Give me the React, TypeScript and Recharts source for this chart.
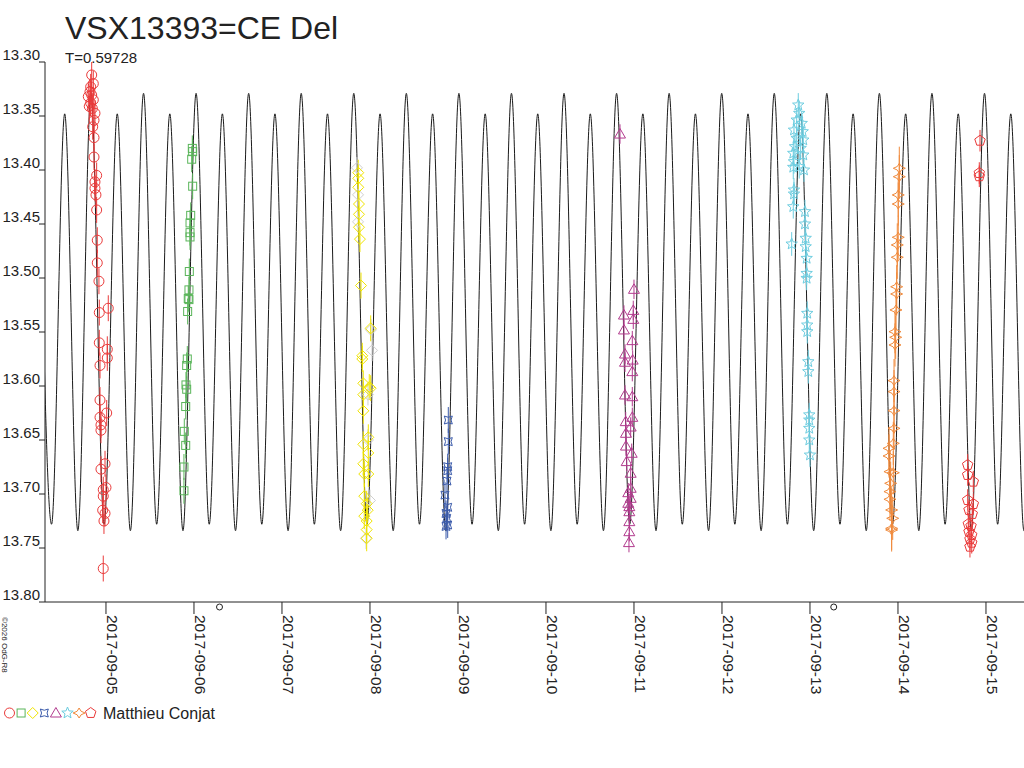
import React from 'react'
import {
    ComposedChart,
    Line,
    Scatter,
    XAxis,
    YAxis,
    ErrorBar,
    ReferenceDot,
} from 'recharts'

// time is in days after 2017-09-05 00:00 UT
const period = 0.59728
const firstMax = -0.1705
// one cycle of the model curve (primary max, secondary min, secondary max, primary min)
const cyclePhases = [0, 0.25, 0.5, 0.75]
const cycleMags = [13.329, 13.728, 13.348, 13.734]

const xMin = -0.693
const xMax = 10.432
const dayTicks = [0, 1, 2, 3, 4, 5, 6, 7, 8, 9, 10]
const dayLabels = [
    '2017-09-05', '2017-09-06', '2017-09-07', '2017-09-08', '2017-09-09', '2017-09-10',
    '2017-09-11', '2017-09-12', '2017-09-13', '2017-09-14', '2017-09-15',
]
const magTicks = [13.3, 13.35, 13.4, 13.45, 13.5, 13.55, 13.6, 13.65, 13.7, 13.75, 13.8]

// moon phases marked under the axis: full moon, last quarter
const moonTimes = [1.29, 8.27]

const sep05 = [
    [-0.1625, 13.312], [-0.144, 13.32], [-0.174, 13.323], [-0.182, 13.3275], [-0.1625, 13.3306],
    [-0.201, 13.332], [-0.144, 13.335], [-0.174, 13.338], [-0.19, 13.341], [-0.155, 13.343],
    [-0.125, 13.3475], [-0.136, 13.354], [-0.151, 13.36], [-0.136, 13.37], [-0.136, 13.388],
    [-0.106, 13.405], [-0.125, 13.411], [-0.125, 13.417], [-0.114, 13.423], [-0.106, 13.437],
    [-0.099, 13.465], [-0.099, 13.486], [-0.08, 13.503], [-0.076, 13.532], [0.026, 13.528],
    [-0.076, 13.56], [0.015, 13.566], [0.015, 13.574], [-0.068, 13.581], [-0.068, 13.613],
    [0.008, 13.625], [-0.068, 13.629], [-0.057, 13.636], [-0.057, 13.641], [-0.011, 13.672],
    [-0.057, 13.677], [-0.031, 13.696], [0, 13.694], [-0.031, 13.702], [-0.0375, 13.715],
    [-0.011, 13.718], [-0.023, 13.725], [-0.031, 13.769],
]
const sep06 = [
    [0.981, 13.38], [0.985, 13.383], [0.974, 13.39], [0.985, 13.415], [0.9625, 13.442],
    [0.955, 13.449], [0.955, 13.458], [0.955, 13.462], [0.947, 13.494], [0.943, 13.511],
    [0.935, 13.519], [0.943, 13.52], [0.928, 13.531], [0.924, 13.575], [0.917, 13.581],
    [0.909, 13.599], [0.917, 13.603], [0.906, 13.619], [0.89, 13.642], [0.906, 13.655],
    [0.886, 13.675], [0.886, 13.697],
]
const sep08 = [
    [2.867, 13.4025], [2.867, 13.4077], [2.867, 13.416], [2.875, 13.4315], [2.875, 13.441],
    [2.875, 13.453], [2.886, 13.464], [2.898, 13.507], [3.008, 13.5466], [2.9125, 13.572],
    [2.9125, 13.575], [2.924, 13.5975], [2.992, 13.601], [3.008, 13.602], [2.924, 13.608],
    [2.924, 13.623], [2.981, 13.6475], [2.924, 13.654], [2.981, 13.662], [2.924, 13.672],
    [2.935, 13.6815], [2.981, 13.6815], [2.935, 13.702], [2.9625, 13.709], [2.974, 13.715],
    [2.935, 13.7205], [2.9625, 13.725], [2.9625, 13.733], [2.9625, 13.741],
]
const sep08b = [
    [2.852, 13.398], [2.864, 13.423], [2.864, 13.448], [3.011, 13.548], [3.023, 13.567],
    [2.977, 13.608], [2.977, 13.65], [3.0, 13.706], [2.955, 13.741],
]
const sep09 = [
    [3.89, 13.6315], [3.89, 13.6515], [3.883, 13.6747], [3.883, 13.6784], [3.875, 13.688],
    [3.852, 13.701], [3.883, 13.7123], [3.864, 13.718], [3.872, 13.7225], [3.864, 13.73],
    [3.883, 13.7287],
]
const sep11 = [
    [5.841, 13.3667], [6.0, 13.5105], [5.992, 13.53], [5.886, 13.5343], [5.992, 13.5383],
    [5.886, 13.5481], [5.981, 13.558], [5.898, 13.5704], [5.985, 13.576], [5.898, 13.578],
    [5.981, 13.5867], [5.898, 13.6083], [5.981, 13.6099], [5.981, 13.629], [5.906, 13.633],
    [5.9625, 13.638], [5.909, 13.6438], [5.909, 13.6556], [5.974, 13.6623], [5.917, 13.67],
    [5.9625, 13.6808], [5.9625, 13.6947], [5.935, 13.6988], [5.9625, 13.704], [5.935, 13.7086],
    [5.947, 13.7117], [5.947, 13.7164], [5.947, 13.7256], [5.947, 13.7349], [5.943, 13.745],
]
const sep13 = [
    [7.867, 13.3398], [7.878, 13.3475], [7.849, 13.3537], [7.906, 13.3568], [7.818, 13.363],
    [7.917, 13.3645], [7.849, 13.3706], [7.924, 13.3722], [7.83, 13.3784], [7.894, 13.3799],
    [7.81, 13.3845], [7.924, 13.3861], [7.818, 13.3923], [7.878, 13.3969], [7.932, 13.4],
    [7.81, 13.3975], [7.818, 13.4185], [7.818, 13.4222], [7.81, 13.434], [7.943, 13.4386],
    [7.943, 13.45], [7.792, 13.4685], [7.951, 13.4632], [7.951, 13.471], [7.962, 13.4818],
    [7.962, 13.4957], [7.962, 13.5003], [7.969, 13.5327], [7.969, 13.5435], [7.969, 13.5497],
    [7.981, 13.5775], [7.981, 13.5867], [7.992, 13.6267], [7.992, 13.6315], [7.992, 13.6392],
    [7.992, 13.65], [8.0, 13.6639],
]
const sep14 = [
    [9.015, 13.3984], [9.015, 13.4062], [9.003, 13.4231], [9.003, 13.4315], [9.003, 13.4623],
    [8.992, 13.4694], [8.992, 13.4808], [8.985, 13.5081], [8.985, 13.5148], [8.977, 13.5296],
    [8.966, 13.5497], [8.974, 13.5549], [8.966, 13.562], [8.955, 13.595], [8.955, 13.6052],
    [8.955, 13.6228], [8.955, 13.6392], [8.947, 13.6531], [8.898, 13.6577], [8.898, 13.6648],
    [8.909, 13.6793], [8.947, 13.6803], [8.917, 13.6901], [8.909, 13.6978], [8.909, 13.7049],
    [8.928, 13.7148], [8.94, 13.7225], [8.928, 13.7318], [8.928, 13.7333],
]
const sep15 = [
    [9.932, 13.3729], [9.924, 13.4028], [9.924, 13.4058], [9.792, 13.6731], [9.792, 13.6824],
    [9.856, 13.6886], [9.792, 13.7056], [9.856, 13.7093], [9.807, 13.7148], [9.844, 13.7185],
    [9.799, 13.7278], [9.83, 13.7296], [9.807, 13.7349], [9.838, 13.738], [9.818, 13.7419],
    [9.838, 13.7451], [9.818, 13.7488],
]

const textColor = '#222'
const font = '"Liberation Sans", Arial, sans-serif'

const toPoints = (rows: number[][], err: number) =>
    rows.map(([t, mag]) => ({ t, mag, e: err }))

const curveData: { t: number, mag: number }[] = []
for (let n = -3; n < 25; n++) {
    cyclePhases.forEach((ph, i) => {
        const t = firstMax + (n + ph) * period
        if (t > xMin - period / 4 && t < xMax + period / 4) {
            curveData.push({ t, mag: cycleMags[i] })
        }
    })
}

type Sym = (cx: number, cy: number, color: string) => React.ReactElement

const polyPath = (cx: number, cy: number, pts: number[][]) =>
    'M' + pts.map(([x, y]) => `${(cx + x).toFixed(2)},${(cy + y).toFixed(2)}`).join('L') + 'Z'

const circleSym: Sym = (cx, cy, c) => <circle cx={cx} cy={cy} r={5} fill="none" stroke={c} />
const squareSym: Sym = (cx, cy, c) => <rect x={cx - 4} y={cy - 4} width={8} height={8} fill="none" stroke={c} />
const diamondSym: Sym = (cx, cy, c) =>
    <path d={polyPath(cx, cy, [[0, -5.5], [5.5, 0], [0, 5.5], [-5.5, 0]])} fill="none" stroke={c} />
const crossSym: Sym = (cx, cy, c) =>
    <path
        d={`M${cx - 4},${cy - 4} Q${cx},${cy - 1.5} ${cx + 4},${cy - 4} Q${cx + 1.5},${cy} ${cx + 4},${cy + 4} Q${cx},${cy + 1.5} ${cx - 4},${cy + 4} Q${cx - 1.5},${cy} ${cx - 4},${cy - 4} Z`}
        fill="none" stroke={c} />
const triangleSym: Sym = (cx, cy, c) =>
    <path d={polyPath(cx, cy, [[0, -5.5], [5.5, 4], [-5.5, 4]])} fill="none" stroke={c} />
const starSym: Sym = (cx, cy, c) => {
    const pts: number[][] = []
    for (let i = 0; i < 10; i++) {
        const a = (-90 + i * 36) * Math.PI / 180
        const r = i % 2 === 0 ? 6 : 2.6
        pts.push([r * Math.cos(a), r * Math.sin(a)])
    }
    return <path d={polyPath(cx, cy, pts)} fill="none" stroke={c} />
}
const sparkSym: Sym = (cx, cy, c) =>
    <path
        d={`M${cx},${cy - 5} Q${cx + 1},${cy - 1} ${cx + 6},${cy} Q${cx + 1},${cy + 1} ${cx},${cy + 5} Q${cx - 1},${cy + 1} ${cx - 6},${cy} Q${cx - 1},${cy - 1} ${cx},${cy - 5} Z`}
        fill="none" stroke={c} />
const pentagonSym: Sym = (cx, cy, c) => {
    const pts: number[][] = []
    for (let i = 0; i < 5; i++) {
        const a = (-90 + i * 72) * Math.PI / 180
        pts.push([5.5 * Math.cos(a), 5.5 * Math.sin(a)])
    }
    return <path d={polyPath(cx, cy, pts)} fill="none" stroke={c} />
}

const nights = [
    { key: 'sep05', rows: sep05, err: 0.012, color: '#ea3a3a', sym: circleSym },
    { key: 'sep06', rows: sep06, err: 0.012, color: '#5ab55a', sym: squareSym },
    { key: 'sep08b', rows: sep08b, err: 0.01, color: '#cfcfcf', sym: diamondSym },
    { key: 'sep08', rows: sep08, err: 0.012, color: '#f0e400', sym: diamondSym },
    { key: 'sep09', rows: sep09, err: 0.012, color: '#3b5bab', sym: crossSym },
    { key: 'sep11', rows: sep11, err: 0.009, color: '#b23b8e', sym: triangleSym },
    { key: 'sep13', rows: sep13, err: 0.011, color: '#6dcde0', sym: starSym },
    { key: 'sep14', rows: sep14, err: 0.02, color: '#f08a3c', sym: sparkSym },
    { key: 'sep15', rows: sep15, err: 0.01, color: '#ea3a3a', sym: pentagonSym },
]
const legendNights = nights.filter((n) => n.key !== 'sep08b')

const MagTick = (props: any) => {
    const { x, y, payload } = props
    return (
        <text x={x + 1} y={y - 2.5} textAnchor="end" fontSize={15} fill={textColor} fontFamily={font}>
            {payload.value.toFixed(2)}
        </text>
    )
}

const DayTick = (props: any) => {
    const { x, y, payload } = props
    const label = dayLabels[dayTicks.indexOf(payload.value)]
    return (
        <text x={x + 1.5} y={y + 1} transform={`rotate(90, ${x + 1.5}, ${y + 1})`}
            textAnchor="start" fontSize={15.5} fill={textColor} fontFamily={font}>
            {label}
        </text>
    )
}

const MoonMark = (props: any) => {
    const { cx, cy } = props
    return <circle cx={cx} cy={cy + 5} r={3} fill="none" stroke={textColor} />
}

const App: React.FC = () => {
    return (
        <div style={{ position: 'absolute', left: 0, top: 0, width: 1024, height: 768, background: '#fff', overflow: 'hidden' }}>
            <ComposedChart width={1024} height={768} margin={{ top: 62, right: 0, left: 0, bottom: 56 }}>
                <XAxis
                    type="number"
                    dataKey="t"
                    domain={[xMin, xMax]}
                    allowDataOverflow
                    ticks={dayTicks}
                    interval={0}
                    height={110}
                    tickSize={12}
                    tickMargin={0}
                    tick={<DayTick />}
                    stroke={textColor}
                />
                <YAxis
                    type="number"
                    dataKey="mag"
                    domain={[13.3, 13.8]}
                    allowDataOverflow
                    reversed
                    ticks={magTicks}
                    interval={0}
                    width={45}
                    tickSize={6}
                    tickMargin={0}
                    tick={<MagTick />}
                    stroke={textColor}
                />
                <Line
                    data={curveData}
                    dataKey="mag"
                    type="monotone"
                    stroke="#1a1a1a"
                    strokeWidth={1}
                    dot={false}
                    activeDot={false}
                    isAnimationActive={false}
                />
                {nights.map((n) => (
                    <Scatter
                        key={n.key}
                        data={toPoints(n.rows, n.err)}
                        dataKey="mag"
                        isAnimationActive={false}
                        shape={(p: any) => n.sym(p.cx, p.cy, n.color)}
                    >
                        <ErrorBar dataKey="e" direction="y" width={0} stroke={n.color} strokeWidth={1} />
                    </Scatter>
                ))}
                {moonTimes.map((t) => (
                    <ReferenceDot key={t} x={t} y={13.8} ifOverflow="visible" shape={<MoonMark />} />
                ))}
            </ComposedChart>
            <svg width={1024} height={768} style={{ position: 'absolute', left: 0, top: 0, pointerEvents: 'none' }}>
                <text x={65} y={39} fontSize={32} fill={textColor} fontFamily={font}>VSX13393=CE Del</text>
                <text x={65} y={63} fontSize={15} fill={textColor} fontFamily={font}>T=0.59728</text>
                <text x={1.5} y={617} transform="rotate(90, 1.5, 617)" fontSize={8} fill={textColor} fontFamily={font}>
                    ©2026 OdG-R8
                </text>
                {legendNights.map((n, i) => (
                    <g key={n.key}>{n.sym(9.5 + i * 11.6, 713, n.color)}</g>
                ))}
                <text x={103} y={719} fontSize={16} fill={textColor} fontFamily={font}>Matthieu Conjat</text>
            </svg>
        </div>
    )
}

export default App
